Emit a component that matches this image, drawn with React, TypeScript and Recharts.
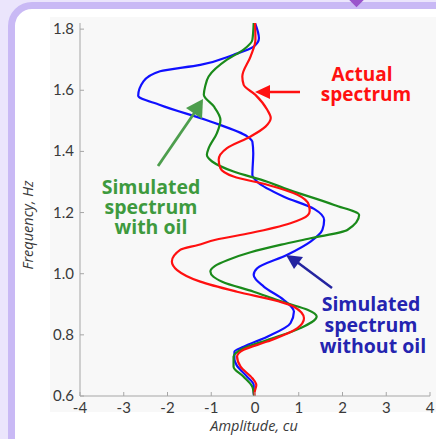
import React from 'react';
import { LineChart, Line, XAxis, YAxis } from 'recharts';

// frequency (Hz) / amplitude (cu) pairs, read top to bottom
const actualFreq = [1.82, 1.765, 1.711, 1.645, 1.618, 1.585, 1.536, 1.509, 1.481, 1.449, 1.411, 1.373, 1.345, 1.318, 1.291, 1.258, 1.225, 1.205, 1.19, 1.165, 1.133, 1.111, 1.094, 1.078, 1.04, 1.012, 0.974, 0.941, 0.909, 0.892, 0.854, 0.822, 0.778, 0.751, 0.729, 0.696, 0.658, 0.636, 0.61, 0.6];
const actualAmp = [0.0, 0.01, -0.1, -0.29, -0.26, 0.01, 0.28, 0.36, 0.24, -0.1, -0.64, -0.83, -0.79, -0.49, 0.28, 0.97, 1.23, 1.25, 1.2, 0.81, -0.1, -0.9, -1.3, -1.71, -1.9, -1.78, -1.25, -0.41, 0.55, 0.89, 1.12, 0.97, 0.28, -0.26, -0.41, -0.33, -0.06, 0.03, -0.01, 0.0];

const withOilFreq = [1.82, 1.765, 1.733, 1.7, 1.645, 1.612, 1.585, 1.547, 1.503, 1.46, 1.41, 1.389, 1.367, 1.334, 1.301, 1.28, 1.225, 1.192, 1.143, 1.116, 1.095, 1.07, 1.045, 1.025, 1.007, 0.99, 0.974, 0.941, 0.914, 0.903, 0.882, 0.86, 0.822, 0.783, 0.756, 0.729, 0.696, 0.663, 0.63, 0.61, 0.6];
const withOilAmp = [-0.03, -0.06, -0.26, -0.64, -1.06, -1.14, -1.17, -0.94, -0.79, -0.87, -1.06, -1.1, -0.98, -0.49, 0.28, 0.66, 1.81, 2.38, 2.11, 1.27, 0.6, -0.1, -0.62, -0.92, -1.02, -0.95, -0.75, -0.03, 0.51, 0.74, 1.2, 1.41, 1.04, 0.28, -0.26, -0.49, -0.49, -0.26, -0.06, -0.03, -0.02];

const withoutOilFreq = [1.82, 1.77, 1.743, 1.716, 1.683, 1.662, 1.629, 1.582, 1.552, 1.498, 1.449, 1.432, 1.395, 1.323, 1.301, 1.252, 1.212, 1.176, 1.143, 1.105, 1.062, 1.018, 0.996, 0.958, 0.914, 0.876, 0.838, 0.794, 0.761, 0.745, 0.72, 0.701, 0.663, 0.636, 0.61, 0.6];
const withoutOilAmp = [0.0, 0.09, -0.03, -0.49, -1.25, -2.17, -2.55, -2.67, -2.17, -1.02, -0.18, -0.06, -0.04, -0.06, 0.05, 0.66, 1.35, 1.58, 1.54, 1.27, 0.74, 0.05, -0.03, 0.2, 0.66, 0.89, 0.81, 0.28, -0.26, -0.47, -0.47, -0.42, -0.18, -0.03, -0.03, -0.02];

const xTicks = [-4, -3, -2, -1, 0, 1, 2, 3, 4];
const yTicks = [0.6, 0.8, 1.0, 1.2, 1.4, 1.6, 1.8];

const toRows = (freq: number[], amp: number[]) => freq.map((f, i) => ({ f, a: amp[i] }));

const tickFont = 'Lato, "Open Sans", sans-serif';
const titleFont = '"Open Sans", sans-serif';
const noteFont = '"Open Sans", sans-serif';
const axisGrey = '#a6a6a6';

const XTick = (props: any) => {
  const { x, y, payload } = props;
  return (
    <g>
      <line x1={x} x2={x} y1={y} y2={y - 4} stroke={axisGrey} />
      <text x={x} y={y + 17} textAnchor="middle" fontSize={15} fill="#3a3a3a" fontFamily={tickFont}>
        {payload.value}
      </text>
    </g>
  );
};

const YTick = (props: any) => {
  const { x, y, payload } = props;
  return (
    <g>
      <line x1={x} x2={x + 4} y1={y} y2={y} stroke={axisGrey} />
      <text x={x - 6} y={y + 5} textAnchor="end" fontSize={15} fill="#3a3a3a" fontFamily={tickFont}>
        {Number(payload.value).toFixed(1)}
      </text>
    </g>
  );
};

export default function App() {
  return (
    <div style={{ position: 'fixed', left: 0, top: 0, width: 436, height: 439, overflow: 'hidden', background: '#ebe5fc' }}>
      <div
        style={{
          position: 'absolute', left: 8, top: 2, width: 460, height: 470, boxSizing: 'border-box',
          border: '7px solid #c9b9f5', borderRadius: 24, background: '#ffffff',
        }}
      />
      <div style={{ position: 'absolute', left: 351, top: -6, width: 11, height: 11, background: '#9a55cc', transform: 'rotate(45deg)' }} />
      <div style={{ position: 'absolute', left: 50, top: 17, width: 386, height: 395, background: '#f8f8f8' }} />
      <div style={{ position: 'absolute', left: 0, top: 0 }}>
        <LineChart width={436} height={439} layout="vertical" margin={{ top: 23, right: 6, bottom: 13, left: 30 }}>
          <XAxis
            type="number"
            dataKey="a"
            domain={[-4, 4]}
            ticks={xTicks}
            interval={0}
            allowDataOverflow
            height={30}
            stroke={axisGrey}
            tickLine={false}
            tickSize={0}
            tickMargin={0}
            tick={<XTick />}
          />
          <YAxis
            type="number"
            dataKey="f"
            domain={[0.6, 1.82]}
            ticks={yTicks}
            interval={0}
            reversed
            allowDataOverflow
            width={50}
            stroke={axisGrey}
            tickLine={false}
            tickSize={0}
            tickMargin={0}
            tick={<YTick />}
          />
          <Line data={toRows(withoutOilFreq, withoutOilAmp)} dataKey="a" type="monotoneY" stroke="#1010ff" strokeWidth={2.2} dot={false} isAnimationActive={false} />
          <Line data={toRows(withOilFreq, withOilAmp)} dataKey="a" type="monotoneY" stroke="#1a8a1a" strokeWidth={2.2} dot={false} isAnimationActive={false} />
          <Line data={toRows(actualFreq, actualAmp)} dataKey="a" type="monotoneY" stroke="#ff1010" strokeWidth={2.2} dot={false} isAnimationActive={false} />
        </LineChart>
      </div>
      <svg width={436} height={439} style={{ position: 'absolute', left: 0, top: 0, pointerEvents: 'none' }}>
        {/* axis titles */}
        <text x={254} y={431} textAnchor="middle" fontSize={14.5} fontStyle="italic" fill="#3a3a3a" fontFamily={titleFont}>
          Amplitude, cu
        </text>
        <text x={33} y={225} textAnchor="middle" fontSize={14.5} fontStyle="italic" fill="#3a3a3a" fontFamily={titleFont} transform="rotate(-90 33 225)">
          Frequency, Hz
        </text>

        {/* Actual spectrum */}
        <text textAnchor="middle" fontSize={19} fontWeight="bold" fill="#ff1010" fontFamily={noteFont}>
          <tspan x={362} y={81}>Actual</tspan>
          <tspan x={366} y={101}>spectrum</tspan>
        </text>
        <line x1={300} y1={92} x2={268} y2={92} stroke="#ff1010" strokeWidth={2.5} />
        <polygon points="255,92 270,85 270,99" fill="#ff1010" />

        {/* Simulated spectrum with oil */}
        <text textAnchor="middle" fontSize={19.5} fontWeight="bold" fill="#3e9a3e" fontFamily={noteFont}>
          <tspan x={151} y={194}>Simulated</tspan>
          <tspan x={151} y={214}>spectrum</tspan>
          <tspan x={151} y={234}>with oil</tspan>
        </text>
        <line x1={158} y1={166} x2={195} y2={112} stroke="#4d9e4d" strokeWidth={2.8} />
        <polygon points="203,99 202,119 186,108" fill="#4d9e4d" />

        {/* Simulated spectrum without oil */}
        <text textAnchor="middle" fontSize={19.5} fontWeight="bold" fill="#2424b0" fontFamily={noteFont}>
          <tspan x={371} y={311}>Simulated</tspan>
          <tspan x={371} y={332}>spectrum</tspan>
          <tspan x={373} y={353}>without oil</tspan>
        </text>
        <line x1={332} y1={288} x2={297} y2={262} stroke="#2424a0" strokeWidth={2.5} />
        <polygon points="286,255 303,257 294,269" fill="#2424a0" />
      </svg>
    </div>
  );
}
